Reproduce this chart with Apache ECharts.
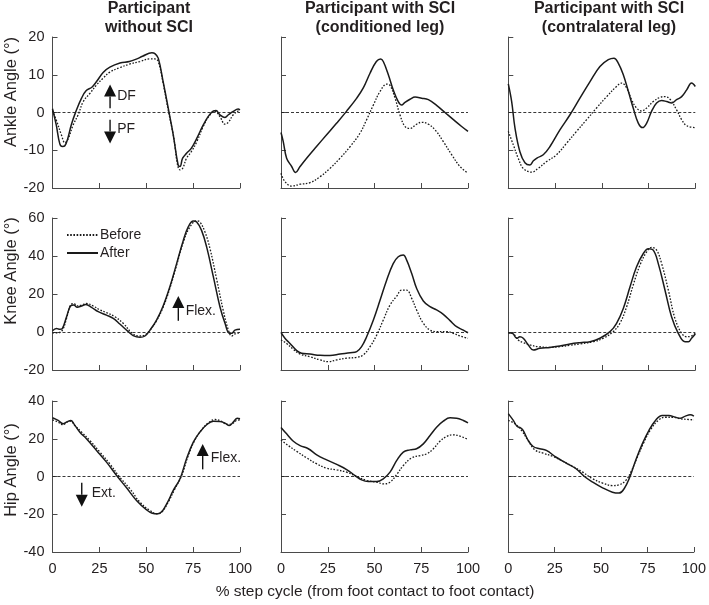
<!DOCTYPE html>
<html>
<head>
<meta charset="utf-8">
<script src="https://cdn.jsdelivr.net/npm/echarts@6/dist/echarts.min.js"></script>
<style>
html,body{margin:0;padding:0;background:#fff;}
#chart{width:709px;height:605px;}
</style>
</head>
<body>
<div id="chart"></div>
<script>
// ---- Data: [% step cycle, angle in degrees] ----
const ankleNoSciBefore = [[0,0.5],[2,-2],[4.8,-6],[6.6,-8],[8.4,-6.9],[11,-3.3],[13.7,-0.6],[16.4,2.9],[20,5.1],[23.5,7.3],[27,9.1],[30.6,10.7],[36,11.9],[41,12.8],[46.6,13.5],[52,14.2],[54.6,14.2],[56.4,13.5],[59,7.8],[61.7,0.7],[64.4,-5.9],[68,-15.2],[69.4,-14.8],[71.5,-12.1],[74,-10.4],[77,-7.7],[80.4,-3.7],[84,-0.6],[86.7,0.3],[89.3,-1.1],[92,-3.1],[93.8,-2.6],[96.4,-0.6],[99,0.4],[100,0.5]];
const ankleNoSciAfter = [[0,1],[2,-3.3],[3.9,-8.3],[5.3,-9],[6.6,-8.8],[8.2,-6.8],[10,-3.3],[12.5,0.3],[15.5,3.8],[18,5.8],[21,6.7],[23.5,8.2],[27,10.6],[30.6,12],[36,13.1],[41,13.5],[45,14.2],[48,14.9],[53,15.8],[54.6,15.6],[56.4,14.4],[59,8.2],[61.7,1.2],[64.4,-5.9],[67,-13.9],[68,-14.3],[69.4,-12.1],[71.5,-10.8],[74,-9.5],[77,-6.8],[80.4,-3.3],[83,-1.1],[85.8,0.4],[87.2,0.5],[89.3,-0.6],[92,-1.3],[93.8,-0.6],[96.4,0.3],[99,0.9],[100,0.7]];
const ankleCondBefore = [[0,-16.1],[2.1,-18.3],[5.7,-19.5],[10.2,-19],[15.5,-18.6],[20.9,-17],[26.2,-14.8],[31.6,-12.1],[37,-9],[42.2,-5.5],[45.8,-1.9],[49.4,2],[53,5.6],[56.5,7.5],[58.3,7.2],[61,3.8],[63.6,-0.6],[66.3,-3.7],[69,-4.2],[72.5,-3.1],[75.2,-2.6],[78.8,-3.1],[82.4,-4.6],[86.8,-7.7],[91.3,-11.2],[95.7,-14.3],[100,-16.1]];
const ankleCondAfter = [[0,-5.3],[1.2,-7.7],[3,-12.1],[5.7,-14.3],[7.8,-15.9],[10.2,-14.3],[13.7,-12.1],[19,-9],[24.4,-5.9],[29.8,-2.8],[35,0.3],[40.5,3.8],[44,6.5],[47.6,10.4],[51,13.5],[53.3,14.2],[54.7,13.5],[57.4,10],[60,6],[62.7,2.9],[64.5,2],[66.3,2.7],[69,3.5],[71.7,4.1],[75.2,3.8],[78.8,3.4],[83.2,1.9],[87.7,0],[92.2,-1.9],[96.6,-3.7],[100,-5]];
const ankleContraBefore = [[0,-5],[2.7,-8.6],[5.3,-12.1],[8,-14.8],[12.5,-15.8],[16,-14.8],[20.5,-13],[25.8,-11.2],[31.2,-8.1],[36.5,-5],[41.9,-1.9],[47.2,1.2],[52.6,4.2],[57.9,6.9],[60.6,7.8],[63.3,6.5],[65.9,3.4],[68.6,1.2],[71.3,0.4],[74,1.2],[77.5,2.9],[81.1,4],[83.8,4.2],[86.5,3.5],[90,0.7],[92.7,-1.9],[95.4,-3.5],[100,-4]];
const ankleContraAfter = [[0,7.6],[1.8,2.9],[3.6,-4.2],[6.2,-10.4],[8.9,-13.3],[11.6,-13.9],[13.4,-12.8],[15.5,-12],[18.7,-11.2],[22.3,-9],[27.6,-4.6],[33,-0.6],[38.3,3.8],[43.7,8.2],[49,12.2],[53.5,14],[56.5,14.4],[58.8,13.1],[61.5,10],[64.2,5.6],[66.8,1.2],[69.5,-2.8],[71.8,-4],[74,-2.8],[76.6,0.3],[79.3,2.5],[82,3.2],[84.7,2.9],[87.3,2.5],[90,3.4],[92.7,4.2],[95.4,6],[98,7.8],[100,6.9]];

const kneeNoSciBefore = [[0,-0.4],[3,-0.4],[5.3,1],[7.5,7.2],[9.6,14.2],[11.4,15],[13.2,13.7],[15.5,14.2],[18.1,15],[21.7,13.7],[25.3,11.6],[28.8,10.2],[33.3,8],[37.7,4.6],[42.2,-0.4],[45.7,-2.1],[48.4,-1.9],[52,1],[55.5,6],[59,13],[62.6,23],[66.2,35.2],[69.8,47.4],[73.3,55.3],[76.9,58.5],[78.6,57.9],[81.3,52.7],[84,43.9],[87.5,28],[91,11.6],[93.8,1],[95.6,-2.1],[97.3,-1],[100,-0.4]];
const kneeNoSciAfter = [[0,0.7],[2.1,1.9],[3.9,1.4],[5.3,1.9],[7.5,8],[9.6,13.7],[11.4,14.2],[13.2,13],[15.5,13.7],[17.8,14.5],[20.8,13],[24.4,10.7],[28.8,8.9],[32.4,7.2],[35.9,4.2],[40.4,0.2],[43,-1.9],[46.6,-2.8],[49.3,-2.1],[52,1],[55.5,6.3],[59,13.7],[62.6,23.8],[66.2,36],[69.8,48.3],[72.4,55.3],[75.1,58.4],[76.9,57.9],[79.5,53.5],[82.2,44.8],[85.8,29],[89.3,13.3],[92,4.6],[94.3,-0.7],[95.6,-0.7],[97.3,1],[100,1.4]];
const kneeCondBefore = [[0,-4.2],[3,-6],[6.6,-9.1],[10.2,-11.6],[15.5,-13],[20.9,-14.7],[25.3,-15.6],[29.8,-14.7],[35.1,-13.8],[40.5,-13.3],[44,-12.1],[47.6,-7.7],[51.2,-1.6],[54.7,6.3],[58.3,14.2],[61.9,18.9],[64.5,22],[67.2,22],[69.9,17.7],[72.5,11.6],[76.1,4.6],[79.7,1],[83.2,0.2],[88.6,0.2],[92.2,-0.7],[95.7,-2.1],[100,-3.3]];
const kneeCondAfter = [[0,-0.2],[2.1,-3.3],[4.8,-6],[8.4,-9.8],[11,-11.2],[15.5,-11.6],[20.9,-12.3],[26.2,-12.4],[31.6,-11.6],[37,-10.9],[40.5,-10.3],[43.1,-7.7],[45.8,-2.5],[49.4,6.3],[53,16.8],[56.5,27.3],[60,36],[62.7,39.6],[65.4,40.5],[67.2,37.8],[69.9,30.8],[72.5,23],[76.1,16.3],[79.7,13.3],[83.2,11.6],[86.8,9.3],[90.4,6],[93.9,2.8],[97.5,1],[100,-0.4]];
const kneeContraBefore = [[0,-0.4],[2.7,-1],[5.3,-4.2],[8,-5.6],[11.6,-6.8],[16,-7.7],[22.3,-8.1],[27.6,-7.7],[33,-7],[38.3,-6.3],[45.5,-5.1],[50.8,-3.3],[56.1,0.2],[59.7,4.6],[63.3,13.3],[66.8,24.7],[70.4,35.2],[74,42.2],[76.6,44.5],[79.3,43.1],[82,36],[85.6,22],[89.1,7.2],[92.7,-0.7],[95.4,-2.5],[98,-2.1],[100,-0.7]];
const kneeContraAfter = [[0,-0.4],[2.3,-0.7],[4.5,-3.3],[6.2,-2.5],[8,-3.3],[10.7,-6.8],[13.4,-9.5],[16.9,-8.6],[22.3,-8.1],[27.6,-7.4],[33,-6.3],[38.3,-5.6],[43.7,-5.1],[49,-3.3],[54.4,0.2],[57.9,4.6],[61.5,12.4],[65.1,23.8],[68.6,34.3],[72.2,41.3],[74.9,43.8],[77.5,43.1],[80.2,36],[83.8,22],[87.3,8],[90.9,-0.7],[94.5,-5.1],[96.3,-5.1],[98,-3.3],[100,-1]];

const hipNoSciBefore = [[0,30],[3,28.8],[5.7,27.4],[7.5,28.8],[9.8,29.3],[11.9,27],[15.5,23.5],[19.9,19.1],[25.3,12.9],[30.6,6.7],[35.9,-0.4],[41.3,-6.5],[46.6,-13.6],[52,-18],[55.5,-19.8],[58.2,-18.9],[61.7,-13.6],[65.3,-6.5],[68.9,0.5],[72.4,11.1],[76,19.4],[79.5,24.7],[83.1,28.4],[86.7,30.2],[90.2,29.2],[92.9,27.6],[95.6,27.9],[98.2,29.7],[100,30]];
const hipNoSciAfter = [[0,31.1],[3,29.7],[5.7,27.9],[7.5,28.8],[9.8,29.7],[11.4,27.9],[14.6,23.5],[18.1,20],[23.5,13.8],[28.8,7.6],[34.2,0.5],[39.5,-6],[44.8,-12.7],[50.2,-17.7],[54.6,-19.8],[57.3,-19.4],[60.9,-14.5],[64.4,-7.4],[68,-1.2],[71.5,9.4],[75.1,18.2],[78.6,23.5],[82.2,27.4],[85.8,29.3],[89.3,29.2],[92,28.3],[94.3,27],[96.4,28.8],[98.6,30.9],[100,30.6]];
const hipCondBefore = [[0,19.3],[3.9,16.4],[8.4,13.3],[13.7,9.9],[19.1,6.7],[24.4,4.4],[29.8,3.5],[35.1,2.3],[40.5,0],[45.8,-2.1],[51.2,-3],[54.7,-3.9],[58.3,-3],[61.9,1.1],[65.4,5.8],[69.9,9.9],[74.4,11.1],[77.9,12],[81.5,14.7],[85,18.7],[88.6,21.2],[92.2,22.1],[95.7,21.4],[100,19.6]];
const hipCondAfter = [[0,26],[3,22.6],[6.6,18.7],[10.2,16.4],[14.6,14.7],[19.1,11.5],[24.4,8.8],[29.8,6.4],[35.1,3.7],[39.6,0.5],[43.1,-1.8],[46.7,-2.7],[51.2,-2.7],[54.7,-1.2],[58.3,2.3],[61.9,8.5],[65.4,12.9],[69,14.1],[72.5,14.7],[76.1,17.3],[79.7,21.7],[83.2,26.1],[86.8,29.3],[90.4,31.1],[93.9,30.9],[97.5,29.7],[100,28.4]];
const hipContraBefore = [[0,29.7],[3.6,27.9],[7.1,24.4],[10.7,19.1],[14.3,14.1],[18.7,12.4],[24.1,10.6],[29.4,8.1],[34.8,5.3],[40.1,2.3],[45.5,-1.2],[50.8,-3.5],[56.1,-4.8],[59.7,-4.4],[63.3,-2.1],[66,2.3],[69.5,10.2],[73.1,18.2],[76.6,24.7],[81.1,30],[84.7,31.4],[89.1,31.4],[92.7,30.6],[97.1,30.2],[100,30]];
const hipContraAfter = [[0,33.3],[2.7,29.7],[4.8,26.5],[6.6,25.8],[8,24.4],[10.7,19.1],[13.4,15.9],[16.9,14.7],[20.5,13.8],[25.8,10.2],[31.2,7.1],[36.5,4.1],[41,0],[45.5,-3],[50.8,-6],[56.1,-8.3],[59.7,-8.8],[62.4,-6.5],[65.1,-1.2],[68.6,8.5],[72.2,17.3],[75.8,24.4],[79.3,29.7],[82.9,32.3],[86.5,32.3],[90,31.4],[92.7,30.9],[95.4,32],[98,32.7],[100,32]];

const columnTitles = ['Participant\nwithout SCI', 'Participant with SCI\n(conditioned leg)', 'Participant with SCI\n(contralateral leg)'];
const rowNames = ['Ankle Angle (°)', 'Knee Angle (°)', 'Hip Angle (°)'];
const xTicks = [0, 25, 50, 75, 100];
const yRanges = [[-20, 20, 10], [-20, 60, 20], [-40, 40, 20]];
const seriesNames = ['Before', 'After'];
const panelData = [
  [ankleNoSciBefore, ankleNoSciAfter], [ankleCondBefore, ankleCondAfter], [ankleContraBefore, ankleContraAfter],
  [kneeNoSciBefore, kneeNoSciAfter], [kneeCondBefore, kneeCondAfter], [kneeContraBefore, kneeContraAfter],
  [hipNoSciBefore, hipNoSciAfter], [hipCondBefore, hipCondAfter], [hipContraBefore, hipContraAfter]
];
const xAxisTitle = '% step cycle (from foot contact to foot contact)';

// ---- Layout ----
const FONT = '"Liberation Sans", Arial, sans-serif';
const TXT = '#231f20';
const AX = '#4a4a4a';
const colLeft = [52.5, 281, 508.3];
const colWidth = [187.5, 187, 187];
const rowTop = [37, 218, 401];
const rowHeight = [151, 152, 151];

const grids = [], xAxes = [], yAxes = [], series = [];
for (let r = 0; r < 3; r++) {
  for (let c = 0; c < 3; c++) {
    const i = r * 3 + c;
    grids.push({left: colLeft[c], top: rowTop[r], width: colWidth[c], height: rowHeight[r], containLabel: false});
    xAxes.push({
      gridIndex: i, type: 'value', min: xTicks[0], max: xTicks[xTicks.length - 1], interval: 25,
      axisLine: {show: true, onZero: false, lineStyle: {color: AX, width: 1}},
      axisTick: {show: true, inside: true, length: 5, lineStyle: {color: AX}},
      axisLabel: {show: r === 2, fontSize: 14.5, color: TXT, fontFamily: FONT, margin: 9},
      splitLine: {show: false}
    });
    const yr = yRanges[r];
    yAxes.push({
      gridIndex: i, type: 'value', min: yr[0], max: yr[1], interval: yr[2],
      axisLine: {show: true, onZero: false, lineStyle: {color: AX, width: 1}},
      axisTick: {show: true, inside: true, length: 5, lineStyle: {color: AX}},
      axisLabel: {show: c === 0, fontSize: 14.5, color: TXT, fontFamily: FONT, margin: 8},
      splitLine: {show: false}
    });
    const [before, after] = panelData[i];
    series.push({
      name: seriesNames[0], type: 'line', xAxisIndex: i, yAxisIndex: i,
      data: before, showSymbol: false, symbol: 'none', smooth: 0.4,
      lineStyle: {color: '#1a1a1a', width: 1.3, type: [1.6, 1.6]},
      itemStyle: {color: '#1a1a1a'},
      silent: true, z: 2,
      markLine: {
        silent: true, symbol: 'none', animation: false,
        label: {show: false},
        lineStyle: {color: '#222', width: 0.9, type: [3, 2]},
        data: [{yAxis: 0}]
      }
    });
    series.push({
      name: seriesNames[1], type: 'line', xAxisIndex: i, yAxisIndex: i,
      data: after, showSymbol: false, symbol: 'none', smooth: 0.4,
      lineStyle: {color: '#1a1a1a', width: 1.5, type: 'solid'},
      itemStyle: {color: '#1a1a1a'},
      silent: true, z: 3
    });
  }
}

const chart = echarts.init(document.getElementById('chart'), null, {renderer: 'canvas'});
chart.setOption({
  animation: false,
  backgroundColor: '#fff',
  grid: grids, xAxis: xAxes, yAxis: yAxes, series: series,
  legend: {
    data: seriesNames, orient: 'vertical', left: 61, top: 223,
    itemWidth: 31, itemHeight: 14, itemGap: 4,
    itemStyle: {opacity: 0, color: 'rgba(0,0,0,0)', borderWidth: 0},
    textStyle: {fontSize: 14, color: TXT, fontFamily: FONT, padding: [0, 0, 0, -3]},
    selectedMode: false
  }
});

// ---- Annotations (text + arrows) ----
const graphics = [];
const titleX = [149, 380, 609];
columnTitles.forEach((t, c) => {
  graphics.push({type: 'text', x: titleX[c], y: -0.5, silent: true, style: {
    text: t, align: 'center', verticalAlign: 'top', fontSize: 16, fontWeight: 'bold',
    fontFamily: FONT, fill: TXT, lineHeight: 18.5}});
});
const rowNameY = [92, 271, 470];
rowNames.forEach((t, r) => {
  graphics.push({type: 'text', x: 11, y: rowNameY[r], rotation: Math.PI / 2, silent: true, style: {
    text: t, align: 'center', verticalAlign: 'middle', fontSize: 16.5, fontFamily: FONT, fill: TXT}});
});
graphics.push({type: 'text', x: 375, y: 591.5, silent: true, style: {
  text: xAxisTitle, align: 'center', verticalAlign: 'middle', fontSize: 15.5, fontFamily: FONT, fill: TXT}});

const arrows = [
  {g: 0, x: 30.7, from: 1.15, to: 7.4, label: 'DF', lx: 34.5, ly: 4.3},
  {g: 0, x: 30.7, from: -1.95, to: -8.2, label: 'PF', lx: 34.5, ly: -4.3},
  {g: 3, x: 67.1, from: 5.9, to: 18.9, label: 'Flex.', lx: 71, ly: 11.2},
  {g: 6, x: 80.1, from: 3.8, to: 17.2, label: 'Flex.', lx: 84.4, ly: 9.6},
  {g: 6, x: 15.6, from: -3.3, to: -16, label: 'Ext.', lx: 20.9, ly: -8.9}
];
const HEAD = 12, HALF = 6;
arrows.forEach(a => {
  const p0 = chart.convertToPixel({gridIndex: a.g}, [a.x, a.from]);
  const p1 = chart.convertToPixel({gridIndex: a.g}, [a.x, a.to]);
  const dir = p1[1] < p0[1] ? -1 : 1;
  const baseY = p1[1] - dir * HEAD;
  graphics.push({type: 'line', silent: true, shape: {x1: p0[0], y1: p0[1], x2: p0[0], y2: baseY},
    style: {stroke: '#111', lineWidth: 1.4}});
  graphics.push({type: 'polygon', silent: true, shape: {points: [[p1[0], p1[1]], [p1[0] - HALF, baseY], [p1[0] + HALF, baseY]]},
    style: {fill: '#111'}});
  const lp = chart.convertToPixel({gridIndex: a.g}, [a.lx, a.ly]);
  graphics.push({type: 'text', x: lp[0], y: lp[1], silent: true, style: {
    text: a.label, align: 'left', verticalAlign: 'middle', fontSize: 14, fontFamily: FONT, fill: TXT}});
});
chart.setOption({graphic: graphics});
</script>
</body>
</html>
